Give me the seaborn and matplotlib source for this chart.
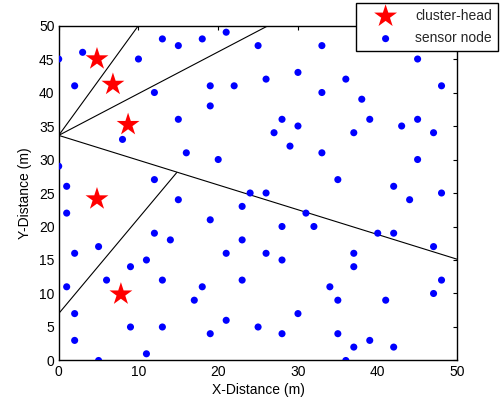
import matplotlib
matplotlib.use("Agg")
import matplotlib.pyplot as plt
import seaborn as sns
import pandas as pd

# ---- data ----
sensor_x = [0, 3, 2, 0, 1, 8, 10, 12, 13, 15, 18, 21, 25, 19, 22, 19, 15, 16, 20, 12, 15, 24,
            1, 2, 5, 1, 2, 2, 5, 6, 9, 11, 12, 14, 13, 9, 13, 11, 18, 17, 19, 21, 23, 23, 23, 21, 19, 25,
            33, 26, 30, 33, 36, 38, 39, 45, 48, 28, 27, 30, 29, 33, 37, 43, 45, 47, 45, 35, 42, 44, 48, 26,
            31, 28, 32, 40, 42, 47, 26, 28, 37, 37, 34, 35, 41, 47, 48, 30, 28, 35, 37, 39, 42, 36]
sensor_y = [45, 46, 41, 29, 26, 33, 45, 40, 48, 47, 48, 49, 47, 41, 41, 38, 36, 31, 30, 27, 24, 25,
            22, 16, 17, 11, 7, 3, 0, 12, 14, 15, 19, 18, 12, 5, 5, 1, 11, 9, 21, 16, 23, 18, 12, 6, 4, 5,
            47, 42, 43, 40, 42, 39, 36, 45, 41, 36, 34, 35, 32, 31, 34, 35, 36, 34, 30, 27, 26, 24, 25, 25,
            22, 20, 20, 19, 19, 17, 16, 15, 16, 14, 11, 9, 9, 10, 12, 7, 4, 4, 2, 3, 2, 0]
head_x = [4.8, 6.8, 8.7, 4.8, 7.8]
head_y = [45.0, 41.2, 35.2, 24.1, 9.9]

# partition lines (start, end)
line_x0 = [0, 0, 0, 0]
line_y0 = [33.6, 33.6, 33.6, 7.0]
line_x1 = [10.0, 26.3, 50.0, 14.8]
line_y1 = [50.0, 50.0, 15.1, 28.05]

labels = ["cluster-head", "sensor node"]

# ---- plotting ----
sns.set_theme(style="white")
plt.rcParams['font.family'] = ['Liberation Sans', 'DejaVu Sans']

fig = plt.figure(figsize=(5.03, 4.05), dpi=100)
ax = fig.add_axes([0.1167, 0.1099, 0.7928, 0.8271])

for x0, y0, x1, y1 in zip(line_x0, line_y0, line_x1, line_y1):
    ax.plot([x0, x1], [y0, y1], color="black", lw=0.8, zorder=1)

heads = pd.DataFrame({"x": head_x, "y": head_y})
sensors = pd.DataFrame({"x": sensor_x, "y": sensor_y})

sns.scatterplot(data=heads, x="x", y="y", ax=ax, marker="*", s=300, color="#ff0000",
                edgecolor="none", linewidth=0, label=labels[0], zorder=3)
sns.scatterplot(data=sensors, x="x", y="y", ax=ax, marker="o", s=26, color="#0000ff",
                edgecolor="none", linewidth=0, label=labels[1], zorder=3)

ax.set_xlim(0, 50)
ax.set_ylim(0, 50)
ax.set_xticks(range(0, 51, 10))
ax.set_yticks(range(0, 51, 5))
ax.set_xlabel("X-Distance (m)", fontsize=10, color="black", labelpad=3)
ax.set_ylabel("Y-Distance (m)", fontsize=10, color="black", labelpad=5)
ax.tick_params(direction="in", length=3, width=0.8, top=True, right=True,
               labelsize=10, colors="black", pad=3)
for sp in ax.spines.values():
    sp.set_visible(True)
    sp.set_color("black")
    sp.set_linewidth(1.0)

leg = ax.legend(loc="upper right", bbox_to_anchor=(1.101, 1.066), borderaxespad=0,
                fontsize=10, frameon=True, fancybox=False, framealpha=1,
                edgecolor="black", labelspacing=0.6, handletextpad=0.4,
                handlelength=3.5, borderpad=0.4, markerscale=1.0)
leg.get_frame().set_linewidth(1.0)
hs = leg.legend_handles
hs[0].set_sizes([300])
hs[1].set_sizes([26])

fig.savefig("out.png", dpi=100)
